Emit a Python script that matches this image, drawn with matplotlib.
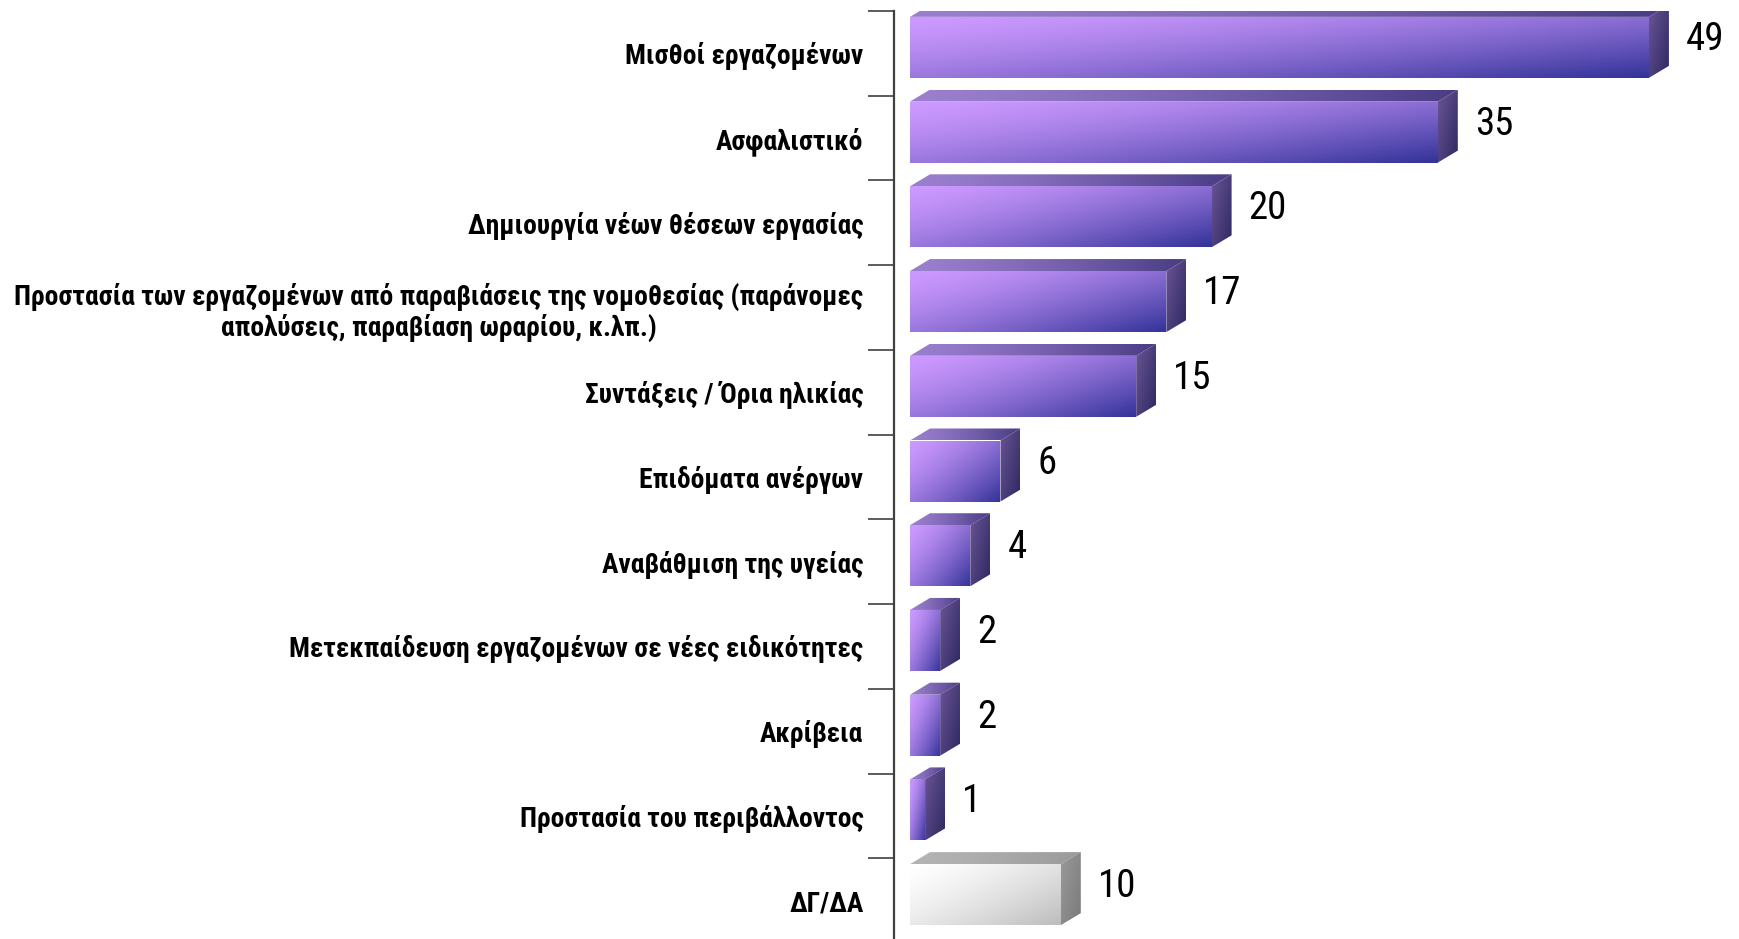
import numpy as np
import matplotlib
matplotlib.use("Agg")
import matplotlib.pyplot as plt
from matplotlib.patches import Polygon
from matplotlib.colors import to_rgb
from matplotlib import font_manager as fm

categories = [
    "Μισθοί εργαζομένων",
    "Ασφαλιστικό",
    "Δημιουργία νέων θέσεων εργασίας",
    "Προστασία των εργαζομένων από παραβιάσεις της νομοθεσίας (παράνομες\nαπολύσεις, παραβίαση ωραρίου, κ.λπ.)",
    "Συντάξεις / Όρια ηλικίας",
    "Επιδόματα ανέργων",
    "Αναβάθμιση της υγείας",
    "Μετεκπαίδευση εργαζομένων σε νέες ειδικότητες",
    "Ακρίβεια",
    "Προστασία του περιβάλλοντος",
    "ΔΓ/ΔΑ",
]
values = [49, 35, 20, 17, 15, 6, 4, 2, 2, 1, 10]
is_gray = [False] * 10 + [True]


def pick_font(bold):
    entries = fm.fontManager.ttflist
    want_w = (lambda w: (w if isinstance(w, int) else 400) >= 600) if bold else \
             (lambda w: (w if isinstance(w, int) else 400) < 600)
    prefs = ["Liberation Sans Narrow", "Arial Narrow", "Roboto Condensed",
             "Open Sans Condensed", "DejaVu Sans Condensed", "Noto Sans Condensed"]
    for p in prefs:
        for f in entries:
            if f.name == p and want_w(f.weight) and f.style == "normal":
                return fm.FontProperties(fname=f.fname)
    for f in entries:
        if ("Narrow" in f.name or "Condensed" in f.name) and want_w(f.weight) and f.style == "normal":
            return fm.FontProperties(fname=f.fname)
    for f in entries:
        if str(f.stretch) in ("condensed", "semi-condensed", "extra-condensed") \
                and want_w(f.weight) and f.style == "normal" and "Mono" not in f.name \
                and "Serif" not in f.name:
            return fm.FontProperties(fname=f.fname)
    return fm.FontProperties(family="DejaVu Sans", weight="bold" if bold else "normal")


fp_bold = pick_font(True)
fp_reg = pick_font(False)

W, H = 1739, 939
fig = plt.figure(figsize=(W / 100, H / 100), dpi=100)
ax_left_px, ax_top_px, ax_bot_px = 894, 11, 943
ax = fig.add_axes([ax_left_px / W, (H - ax_bot_px) / H,
                   (W - ax_left_px) / W, (ax_bot_px - ax_top_px) / H])

px_per_x = 15.08
x0_px = 910
xmin = -(x0_px - ax_left_px) / px_per_x
xmax = xmin + (W - ax_left_px) / px_per_x
n = len(categories)
ax.set_xlim(xmin, xmax)
ax.set_ylim(n - 0.5, -0.5)
px_per_y = (ax_bot_px - ax_top_px) / n

depth_x = 20 / px_per_x
depth_y = 12 / px_per_y
front_h = 61 / px_per_y
front_shift = -6 / px_per_y


def grad_image(c0, c1, nx=64, ny=32, mode="diag", gamma=1.0):
    u = np.linspace(0, 1, nx)[None, :]
    v = np.linspace(0, 1, ny)[:, None]
    if mode == "diag":
        t = (u * 0.55 + v * 0.45)
    elif mode == "h":
        t = u + 0 * v
    else:
        t = v + 0 * u
    t = np.clip(t, 0, 1) ** gamma
    c0 = np.array(to_rgb(c0)); c1 = np.array(to_rgb(c1))
    return c0[None, None, :] * (1 - t[..., None]) + c1[None, None, :] * t[..., None]


def face(poly, img, extent):
    p = Polygon(poly, closed=True, facecolor="none", edgecolor="none")
    ax.add_patch(p)
    im = ax.imshow(img, extent=extent, aspect="auto", origin="upper",
                   interpolation="bilinear", zorder=2)
    im.set_clip_path(p)


val_fp = fp_reg.copy()
val_fp.set_size(28)

for i, (v, g) in enumerate(zip(values, is_gray)):
    yc = i + front_shift
    yt = yc - front_h / 2
    yb = yc + front_h / 2
    if g:
        fc = ("#ffffff", "#bdbdbd"); tc = ("#b4b4b4", "#9a9a9a"); sc = ("#9a9a9a", "#7a7a7a")
    else:
        fc = ("#cc99ff", "#333399"); tc = ("#9a7fcf", "#4a3c85"); sc = ("#6a5596", "#2e2860")
    face([(0, yt), (v, yt), (v, yb), (0, yb)],
         grad_image(fc[0], fc[1], mode="diag", gamma=1.4),
         (0, v, yb, yt))
    face([(0, yt), (depth_x, yt - depth_y), (v + depth_x, yt - depth_y), (v, yt)],
         grad_image(tc[0], tc[1], mode="h", gamma=1.3),
         (0, v + depth_x, yt, yt - depth_y))
    face([(v, yt), (v + depth_x, yt - depth_y), (v + depth_x, yb - depth_y), (v, yb)],
         grad_image(sc[0], sc[1], mode="diag", gamma=1.0),
         (v, v + depth_x, yb, yt - depth_y))
    ax.text(v + depth_x + 17 / px_per_x, yc - 8 / px_per_y, str(v),
            ha="left", va="center", fontproperties=val_fp, color="black")

for s in ["top", "right", "bottom"]:
    ax.spines[s].set_visible(False)
ax.spines["left"].set_color("#404040")
ax.spines["left"].set_linewidth(1.6)
ax.set_xticks([])
ax.set_yticks(range(n))
lab_fp = fp_bold.copy()
lab_fp.set_size(19.8)
ax.set_yticklabels(categories, fontproperties=lab_fp, multialignment="center",
                   linespacing=1.15)
ax.tick_params(axis="y", which="major", length=0, pad=22)
ax.set_yticks(np.arange(-0.5, n, 1.0), minor=True)
ax.tick_params(axis="y", which="minor", length=19, width=1.2, color="#404040",
               direction="out")
ax.set_facecolor("none")

fig.savefig("out.png", dpi=100)
